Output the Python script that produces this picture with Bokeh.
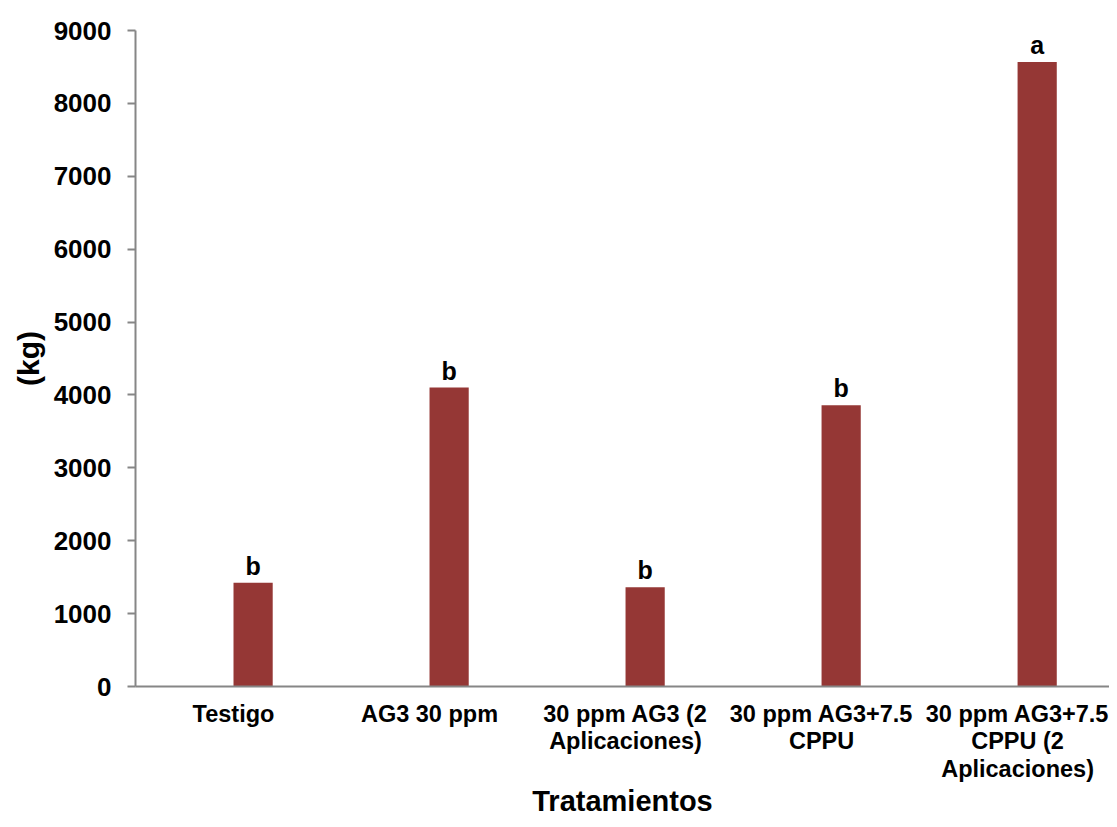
from bokeh.plotting import figure
from bokeh.models import Range1d, FixedTicker, ColumnDataSource
from bokeh.transform import dodge
from bokeh.core.properties import value
from bokeh.embed import file_html
from bokeh.resources import INLINE

categories = ["Testigo", "AG3 30 ppm", "30 ppm AG3 (2\nAplicaciones)",
              "30 ppm AG3+7.5\nCPPU", "30 ppm AG3+7.5\nCPPU (2\nAplicaciones)"]
values = [1424, 4102, 1360, 3857, 8567]
letters = ["b", "b", "b", "b", "a"]
y_ticks = [0, 1000, 2000, 3000, 4000, 5000, 6000, 7000, 8000, 9000]
x_title = "Tratamientos"
y_title = "(kg)"

FONT = "Liberation Sans"
positions = list(range(1, len(categories) + 1))
src = ColumnDataSource(dict(x=positions, top=values, lab=letters))

x_range = Range1d(0.5, 5.469)
p = figure(width=1109, height=819, output_backend="svg", toolbar_location=None,
           x_range=x_range, y_range=Range1d(0, 9000),
           min_border_left=135, min_border_right=0, min_border_top=30, min_border_bottom=129)
p.outline_line_color = None
p.grid.grid_line_color = None

bx = dodge("x", 0.1, range=x_range)
p.vbar(x=bx, top="top", width=0.2, source=src, fill_color="#953735", line_color=None)
p.text(x=bx, y="top", text="lab", source=src, text_font=value(FONT), text_font_style="bold",
       text_font_size="25px", text_align="center", text_baseline="alphabetic", y_offset=-17,
       text_color="black")

p.xaxis.ticker = FixedTicker(ticks=positions)
p.xaxis.major_label_overrides = {i: c for i, c in zip(positions, categories)}
p.yaxis.ticker = FixedTicker(ticks=y_ticks)

for ax in (p.xaxis, p.yaxis):
    ax.axis_line_color = "#868686"
    ax.axis_line_width = 2
    ax.major_tick_line_color = "#868686"
    ax.major_tick_line_width = 2
    ax.minor_tick_line_color = None
    ax.major_label_text_font = FONT
    ax.major_label_text_font_style = "bold"
    ax.major_label_text_color = "black"
    ax.axis_label_text_font = FONT
    ax.axis_label_text_font_style = "bold"
    ax.axis_label_text_color = "black"

p.xaxis.major_tick_line_color = None
p.xaxis.major_tick_out = 0
p.xaxis.major_tick_in = 0
p.xaxis.major_label_text_font_size = "23.5px"
p.xaxis.major_label_text_line_height = 1.06
p.xaxis.major_label_standoff = 14
p.xaxis.axis_label = x_title
p.xaxis.axis_label_text_font_size = "29px"
p.xaxis.axis_label_standoff = 0

p.yaxis.major_tick_out = 8
p.yaxis.major_tick_in = 0
p.yaxis.major_label_text_font_size = "26px"
p.yaxis.major_label_standoff = 16
p.yaxis.axis_label = y_title
p.yaxis.axis_label_text_font_size = "30px"
p.yaxis.axis_label_standoff = 6

open("out.html", "w").write(file_html(p, INLINE))
